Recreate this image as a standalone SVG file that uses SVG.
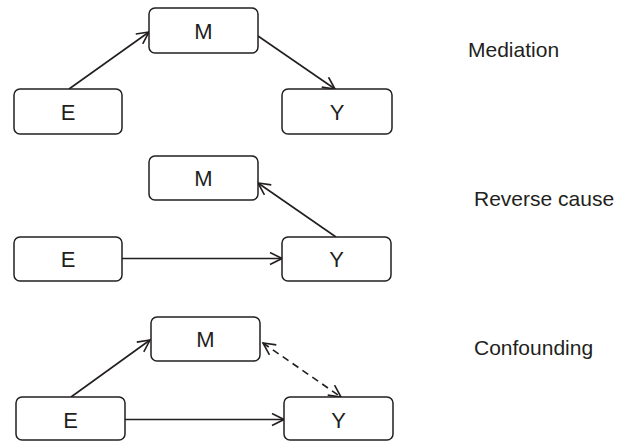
<svg xmlns="http://www.w3.org/2000/svg" width="627" height="441" viewBox="0 0 627 441">
<style>
.box{fill:#fff;stroke:#231f20;stroke-width:1.5}
.lbl{font-family:"Liberation Sans",Arial,sans-serif;font-size:22px;fill:#231f20;text-anchor:middle}
.cap{font-family:"Liberation Sans",Arial,sans-serif;font-size:21px;fill:#231f20}
.edge{fill:none;stroke:#231f20;stroke-width:1.6}
.dash{stroke-dasharray:7 5}
</style>
<defs>
<marker id="arr" viewBox="0 0 14 14" refX="13" refY="7" markerWidth="14" markerHeight="14" markerUnits="userSpaceOnUse" orient="auto-start-reverse">
<path d="M1,1 L13,7 L1,13" fill="none" stroke="#231f20" stroke-width="1.6"/>
</marker>
</defs>
<rect width="627" height="441" fill="#fff"/>
<g id="connectors">
<line class="edge" x1="69" y1="89" x2="149" y2="32" marker-end="url(#arr)"/>
<line class="edge" x1="258" y1="36" x2="335" y2="89" marker-end="url(#arr)"/>
<line class="edge" x1="122" y1="258.5" x2="282" y2="258.5" marker-end="url(#arr)"/>
<line class="edge" x1="336" y1="237" x2="258" y2="183" marker-end="url(#arr)"/>
<line class="edge" x1="71" y1="397" x2="150" y2="340" marker-end="url(#arr)"/>
<line class="edge" x1="125" y1="419.5" x2="284" y2="419.5" marker-end="url(#arr)"/>
<line class="edge dash" x1="263" y1="343" x2="341" y2="397" marker-start="url(#arr)" marker-end="url(#arr)"/>
</g>
<g id="m1"><rect class="box" x="149" y="8" width="109" height="45" rx="6"/><text class="lbl" x="203.5" y="38.5">M</text></g>
<g id="e1"><rect class="box" x="14" y="89" width="108" height="45" rx="6"/><text class="lbl" x="68" y="119.5">E</text></g>
<g id="y1"><rect class="box" x="282" y="89" width="110" height="45" rx="6"/><text class="lbl" x="337" y="119.5">Y</text></g>
<g id="cap1"><text class="cap" x="468" y="57">Mediation</text></g>
<g id="m2"><rect class="box" x="149" y="156" width="109" height="44" rx="6"/><text class="lbl" x="203.5" y="186">M</text></g>
<g id="e2"><rect class="box" x="14" y="237" width="108" height="44" rx="6"/><text class="lbl" x="68" y="267">E</text></g>
<g id="y2"><rect class="box" x="282" y="237" width="109" height="44" rx="6"/><text class="lbl" x="336.5" y="267">Y</text></g>
<g id="cap2"><text class="cap" x="474" y="206">Reverse cause</text></g>
<g id="m3"><rect class="box" x="151" y="317" width="109" height="44" rx="6"/><text class="lbl" x="205.5" y="347">M</text></g>
<g id="e3"><rect class="box" x="16" y="397" width="109" height="43" rx="6"/><text class="lbl" x="70.5" y="427.5">E</text></g>
<g id="y3"><rect class="box" x="284" y="397" width="109" height="43" rx="6"/><text class="lbl" x="338.5" y="427.5">Y</text></g>
<g id="cap3"><text class="cap" x="474" y="355">Confounding</text></g>
</svg>
